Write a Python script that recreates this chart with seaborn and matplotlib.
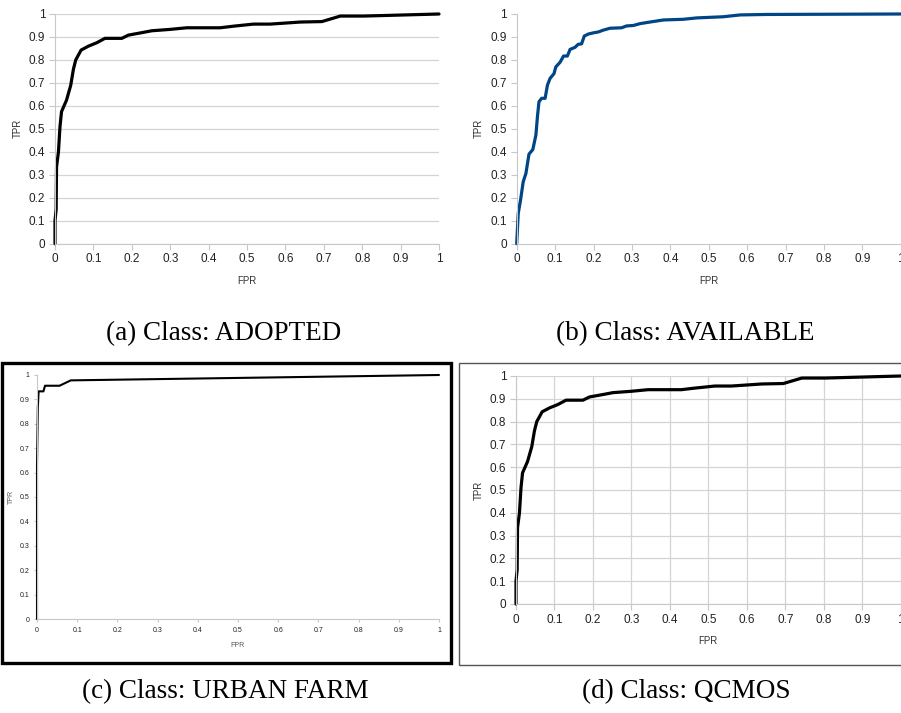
import matplotlib
matplotlib.use("Agg")
import matplotlib.pyplot as plt
from matplotlib.patches import Rectangle
from matplotlib.ticker import FuncFormatter, MultipleLocator
import pandas as pd
import seaborn as sns

# ROC curves (FPR, TPR)
adopted_fpr = [0.0, 0.0, 0.003, 0.004, 0.009, 0.013, 0.017, 0.030, 0.041, 0.048, 0.054,
               0.068, 0.087, 0.109, 0.130, 0.174, 0.191, 0.230, 0.252, 0.300, 0.343,
               0.430, 0.465, 0.517, 0.560, 0.639, 0.695, 0.743, 0.804, 1.0]
adopted_tpr = [0.0, 0.10, 0.15, 0.335, 0.40, 0.51, 0.575, 0.625, 0.69, 0.76, 0.80,
               0.843, 0.86, 0.875, 0.894, 0.894, 0.908, 0.92, 0.927, 0.933, 0.94,
               0.94, 0.947, 0.956, 0.956, 0.965, 0.967, 0.991, 0.991, 1.0]

available_fpr = [0.0, 0.004, 0.010, 0.017, 0.024, 0.032, 0.042, 0.050, 0.054, 0.058,
                 0.065, 0.074, 0.080, 0.087, 0.097, 0.102, 0.113, 0.122, 0.132, 0.139,
                 0.152, 0.160, 0.169, 0.176, 0.187, 0.200, 0.213, 0.226, 0.243, 0.273,
                 0.286, 0.304, 0.321, 0.347, 0.382, 0.434, 0.469, 0.538, 0.582, 0.651, 1.0]
available_tpr = [0.0, 0.132, 0.19, 0.27, 0.306, 0.39, 0.41, 0.473, 0.553, 0.618,
                 0.633, 0.633, 0.69, 0.72, 0.74, 0.77, 0.79, 0.817, 0.817, 0.846,
                 0.855, 0.868, 0.87, 0.904, 0.913, 0.918, 0.922, 0.93, 0.938, 0.94,
                 0.948, 0.95, 0.958, 0.965, 0.974, 0.977, 0.983, 0.988, 0.996, 0.998, 1.0]

urban_fpr = [0.0, 0.0, 0.002, 0.004, 0.016, 0.020, 0.056, 0.084, 1.0]
urban_tpr = [0.0, 0.63, 0.865, 0.933, 0.933, 0.956, 0.956, 0.978, 1.0]

# QCMOS curve looks identical to ADOPTED
qcmos_fpr = list(adopted_fpr)
qcmos_tpr = list(adopted_tpr)

captions = ["(a) Class: ADOPTED", "(b) Class: AVAILABLE",
            "(c) Class: URBAN FARM", "(d) Class: QCMOS"]

W, H = 901, 713
sns.set_theme(style="white")
plt.rcParams["font.family"] = ["Liberation Sans", "DejaVu Sans"]

fig = plt.figure(figsize=(W / 100, H / 100), dpi=100)


def px_axes(x0, x1, top, bottom):
    return fig.add_axes([x0 / W, 1 - bottom / H, (x1 - x0) / W, (bottom - top) / H])


def style(ax, fs, hgrid=True, vgrid=False):
    ax.set_xlim(0, 1)
    ax.set_ylim(0, 1)
    ax.xaxis.set_major_locator(MultipleLocator(0.1))
    ax.yaxis.set_major_locator(MultipleLocator(0.1))
    fmt = FuncFormatter(lambda v, _: f"{v:g}")
    ax.xaxis.set_major_formatter(fmt)
    ax.yaxis.set_major_formatter(fmt)
    ax.tick_params(axis="both", which="major", direction="out", length=4, width=0.8,
                   color="#c8c8c8", labelsize=fs, labelcolor="#222222", pad=3,
                   bottom=True, left=True)
    for side in ["top", "right"]:
        ax.spines[side].set_visible(False)
    for side in ["left", "bottom"]:
        ax.spines[side].set_color("#c8c8c8")
        ax.spines[side].set_linewidth(0.8)
    if hgrid:
        ax.grid(axis="y", color="#d4d4d4", linewidth=0.9)
    if vgrid:
        ax.grid(axis="x", color="#d4d4d4", linewidth=0.9)
    ax.set_axisbelow(True)
    ax.set_facecolor("white")


def draw(ax, fpr, tpr, color, lw):
    df = pd.DataFrame({"FPR": fpr, "TPR": tpr})
    sns.lineplot(data=df, x="FPR", y="TPR", estimator=None, sort=False,
                 color=color, linewidth=lw, ax=ax, clip_on=False)


# (a)
ax_a = px_axes(55, 439, 14, 243.7)
style(ax_a, 8.5)
draw(ax_a, adopted_fpr, adopted_tpr, "black", 2.3)
ax_a.set_xlabel("FPR", fontsize=7, color="#333333")
ax_a.set_ylabel("TPR", fontsize=7, color="#333333")
ax_a.xaxis.set_label_coords(0.5, -0.14)
ax_a.yaxis.set_label_coords(-0.085, 0.5)

# (b)
ax_b = px_axes(516.7, 900.7, 14, 243.7)
style(ax_b, 8.5)
ax_b.grid(False)
draw(ax_b, available_fpr, available_tpr, "#004586", 2.3)
ax_b.set_xlabel("FPR", fontsize=7, color="#333333")
ax_b.set_ylabel("TPR", fontsize=7, color="#333333")
ax_b.xaxis.set_label_coords(0.5, -0.14)
ax_b.yaxis.set_label_coords(-0.085, 0.5)

# (c)
ax_c = px_axes(37, 439, 375, 619)
style(ax_c, 5, hgrid=False)
ax_c.tick_params(length=2.5)
draw(ax_c, urban_fpr, urban_tpr, "black", 1.5)
ax_c.set_xlabel("FPR", fontsize=5, color="#555555")
ax_c.set_ylabel("TPR", fontsize=5, color="#555555")
ax_c.xaxis.set_label_coords(0.5, -0.095)
ax_c.yaxis.set_label_coords(-0.055, 0.5)

# (d)
ax_d = px_axes(516, 900.7, 376, 604)
style(ax_d, 8.5, hgrid=True, vgrid=True)
draw(ax_d, qcmos_fpr, qcmos_tpr, "black", 2.3)
ax_d.set_xlabel("FPR", fontsize=7, color="#333333")
ax_d.set_ylabel("TPR", fontsize=7, color="#333333")
ax_d.xaxis.set_label_coords(0.5, -0.14)
ax_d.yaxis.set_label_coords(-0.085, 0.5)

# frames around the lower panels
fig.patches.append(Rectangle((1.5 / W, 1 - 663 / H), 449 / W, 300 / H,
                             transform=fig.transFigure, fill=False,
                             edgecolor="black", linewidth=2.4))
fig.patches.append(Rectangle((459 / W, 1 - 664.5 / H), 445 / W, 301.5 / H,
                             transform=fig.transFigure, fill=False,
                             edgecolor="#555555", linewidth=1.0))

# captions
for text, (cx, cy) in zip(captions, [(224, 334), (685, 334), (225, 692), (686, 692)]):
    fig.text(cx / W, 1 - cy / H, text, ha="center", va="center",
             fontsize=19.5, family=["Liberation Serif", "DejaVu Serif"], color="black")

fig.savefig("out.png", dpi=100)
